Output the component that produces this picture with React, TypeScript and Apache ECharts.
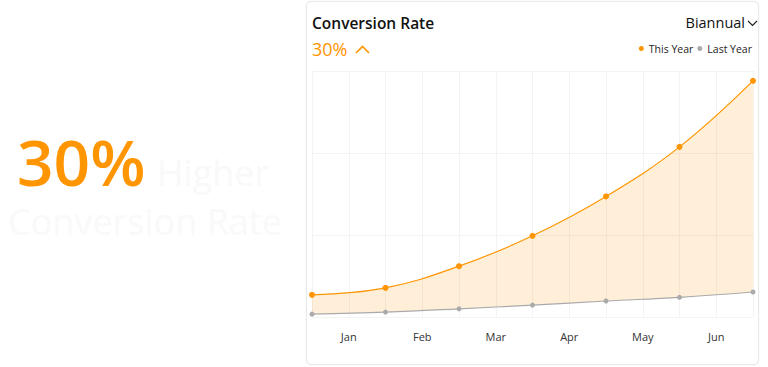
import React, { useEffect, useRef } from "react";
import * as echarts from "echarts";

const months = ["Jan", "Feb", "Mar", "Apr", "May", "Jun"];
const pointX = ["0", "1", "2", "3", "4", "5", "6"];
const thisYear = [5.4, 7.1, 12.4, 19.8, 29.4, 41.5, 57.6];
const lastYear = [0.7, 1.2, 2.0, 2.9, 3.9, 4.8, 6.1];

const ORANGE = "#ff9500";
const GRAY = "#aaaaaa";
const FONT = "'Open Sans', 'Noto Sans', sans-serif";

export default function App() {
  const ref = useRef<HTMLDivElement>(null);

  useEffect(() => {
    if (!ref.current) return;
    const chart = echarts.init(ref.current, undefined, { renderer: "svg" });
    const diff = thisYear.map((v, i) => +(v - lastYear[i]).toFixed(2));
    chart.setOption({
      animation: false,
      textStyle: { fontFamily: FONT },
      grid: { left: 312, right: 15, top: 71, bottom: 50, containLabel: false },
      legend: {
        data: ["This Year", "Last Year"],
        right: 11,
        top: 38,
        icon: "circle",
        itemWidth: 5,
        itemHeight: 5,
        itemGap: 4,
        textStyle: { fontSize: 10.5, color: "#222", fontFamily: FONT, fontWeight: 500 },
      },
      xAxis: [
        {
          type: "category",
          data: pointX,
          boundaryGap: false,
          show: false,
          position: "bottom",
        },
        {
          type: "value",
          min: 0,
          max: 12,
          interval: 1,
          position: "bottom",
          axisLine: { show: false },
          axisTick: { show: false },
          splitLine: { show: true, lineStyle: { color: "#f3f3f3", width: 1 } },
          axisLabel: {
            margin: 14,
            fontSize: 11,
            color: "#333",
            fontFamily: FONT,
            formatter: (v: number) => (v % 2 === 1 ? months[(v - 1) / 2] : ""),
          },
        },
      ],
      yAxis: {
        type: "value",
        min: 0,
        max: 60,
        interval: 20,
        axisLine: { show: false },
        axisTick: { show: false },
        axisLabel: { show: false },
        splitLine: { show: true, lineStyle: { color: "#f3f3f3", width: 1 } },
      },
      series: [
        {
          name: "Last Year",
          type: "line",
          xAxisIndex: 0,
          stack: "total",
          smooth: 0.4,
          data: lastYear,
          symbol: "circle",
          symbolSize: 5,
          itemStyle: { color: GRAY },
          lineStyle: { color: GRAY, width: 1.2 },
          z: 3,
        },
        {
          name: "This Year",
          type: "line",
          xAxisIndex: 0,
          stack: "total",
          smooth: 0.4,
          data: diff,
          symbol: "circle",
          symbolSize: 6,
          itemStyle: { color: ORANGE },
          lineStyle: { color: ORANGE, width: 1.2 },
          areaStyle: { color: "rgba(252, 150, 0, 0.22)" },
          z: 2,
        },
      ],
      graphic: [
        {
          type: "text",
          left: 17,
          top: 129,
          style: { text: "30%", fill: ORANGE, font: `600 64px ${FONT}` },
        },
        {
          type: "text",
          left: 157,
          top: 154,
          style: { text: "Higher", fill: "#f9f9f9", font: `400 36px ${FONT}` },
        },
        {
          type: "text",
          left: 8,
          top: 203,
          style: { text: "Conversion Rate", fill: "#f9f9f9", font: `400 36px ${FONT}` },
        },
        {
          type: "text",
          left: 312,
          top: 15,
          style: { text: "Conversion Rate", fill: "#111", font: `600 15.5px ${FONT}` },
        },
        {
          type: "text",
          left: 312,
          top: 40,
          style: { text: "30%", fill: ORANGE, font: `400 18px ${FONT}` },
        },
        {
          type: "polyline",
          shape: { points: [[356, 53], [362.5, 46.5], [369, 53]] },
          style: { stroke: ORANGE, lineWidth: 1.6, fill: null },
        },
        {
          type: "text",
          right: 23,
          top: 15,
          style: { text: "Biannual", fill: "#111", font: `400 14.5px ${FONT}` },
        },
        {
          type: "polyline",
          shape: { points: [[748, 21], [752.5, 25.5], [757, 21]] },
          style: { stroke: "#222", lineWidth: 1.2, fill: null },
        },
      ],
    });
    return () => chart.dispose();
  }, []);

  return (
    <div style={{ position: "absolute", left: 0, top: 0, width: 768, height: 367, background: "#fff" }}>
      <div
        style={{
          position: "absolute",
          left: 306,
          top: 1,
          width: 453,
          height: 364,
          border: "1px solid #e8e8e8",
          borderRadius: 5,
          boxShadow: "0 0 2px rgba(0,0,0,0.06)",
          boxSizing: "border-box",
          background: "#fff",
        }}
      />
      <div ref={ref} style={{ position: "absolute", left: 0, top: 0, width: 768, height: 367 }} />
    </div>
  );
}
